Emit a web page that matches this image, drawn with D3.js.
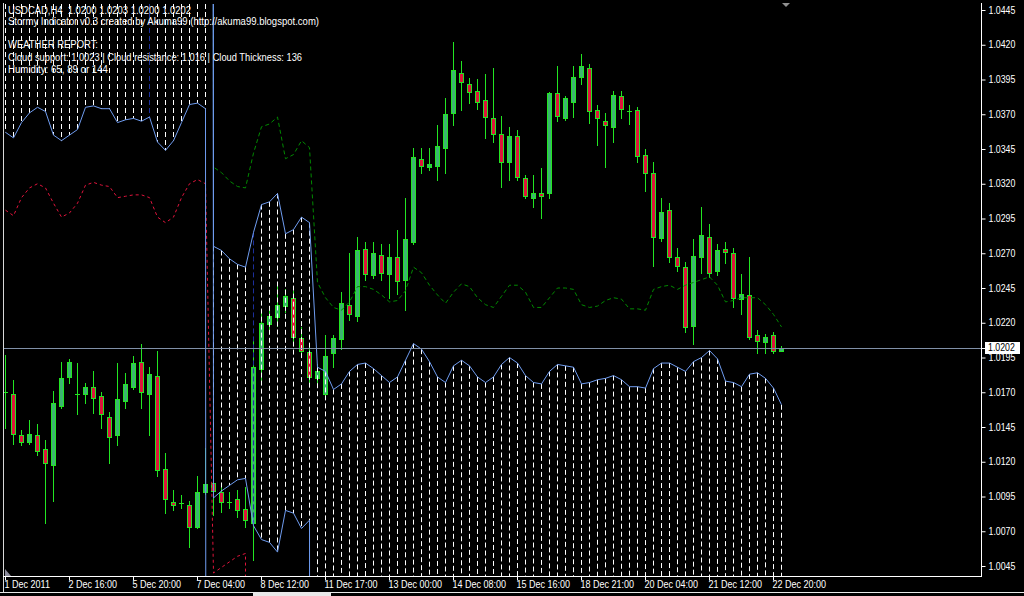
<!DOCTYPE html>
<html><head><meta charset="utf-8">
<script src="https://cdn.jsdelivr.net/npm/d3@7"></script>
<style>html,body{margin:0;padding:0;background:#000;overflow:hidden}text{font-family:"Liberation Sans",Arial,sans-serif;white-space:pre}</style>
</head><body><svg id="c" width="1024" height="596"></svg>
<script>
// ---------- DATA ----------
const opens  = [1.0170,1.0169,1.0139,1.0134,1.0139,1.0129,1.0118,1.0160,1.0181,1.0169,1.0169,1.0174,1.0167,1.0152,1.0139,1.0164,1.0174,1.0192,1.0169,1.0182,1.0115,1.0091,1.0090,1.0089,1.0073,1.0098,1.0105,1.0098,1.0091,1.0093,1.0086,1.0076,1.0187,1.0219,1.0224,1.0232,1.0238,1.0209,1.0199,1.0180,1.0169,1.0198,1.0208,1.0233,1.0225,1.0273,1.0254,1.0269,1.0255,1.0267,1.0251,1.0278,1.0338,1.0332,1.0333,1.0346,1.0371,1.0400,1.0392,1.0387,1.0380,1.0367,1.0356,1.0336,1.0354,1.0324,1.0310,1.0313,1.0313,1.0385,1.0367,1.0379,1.0397,1.0403,1.0373,1.0365,1.0361,1.0383,1.0372,1.0373,1.0341,1.0328,1.0281,1.0301,1.0267,1.0260,1.0218,1.0267,1.0282,1.0257,1.0273,1.0270,1.0237,1.0240,1.0211,1.0206,1.0211,1.0200];
const highs  = [1.0197,1.0179,1.0143,1.0150,1.0147,1.0136,1.0171,1.0192,1.0194,1.0191,1.0177,1.0185,1.0170,1.0156,1.0191,1.0184,1.0196,1.0205,1.0188,1.0200,1.0126,1.0100,1.0096,1.0092,1.0110,1.0130,1.0110,1.0102,1.0098,1.0100,1.0102,1.0209,1.0229,1.0231,1.0249,1.0244,1.0243,1.0217,1.0205,1.0190,1.0211,1.0211,1.0242,1.0270,1.0282,1.0278,1.0278,1.0277,1.0277,1.0287,1.0310,1.0346,1.0346,1.0346,1.0362,1.0382,1.0422,1.0408,1.0396,1.0395,1.0399,1.0403,1.0369,1.0361,1.0359,1.0326,1.0326,1.0331,1.0386,1.0405,1.0383,1.0405,1.0413,1.0406,1.0377,1.0371,1.0387,1.0387,1.0377,1.0375,1.0345,1.0336,1.0310,1.0306,1.0274,1.0264,1.0280,1.0303,1.0291,1.0277,1.0278,1.0274,1.0255,1.0267,1.0215,1.0212,1.0213,1.0203];
const lows   = [1.0144,1.0133,1.0132,1.0133,1.0125,1.0076,1.0092,1.0159,1.0177,1.0154,1.0162,1.0155,1.0144,1.0119,1.0132,1.0159,1.0172,1.0159,1.0139,1.0110,1.0083,1.0085,1.0087,1.0059,1.0072,1.0097,1.0082,1.0084,1.0087,1.0080,1.0073,1.0049,1.0179,1.0215,1.0218,1.0228,1.0204,1.0197,1.0177,1.0176,1.0168,1.0188,1.0201,1.0222,1.0221,1.0251,1.0252,1.0251,1.0238,1.0241,1.0229,1.0277,1.0328,1.0330,1.0323,1.0328,1.0362,1.0373,1.0378,1.0374,1.0353,1.0350,1.0318,1.0323,1.0323,1.0310,1.0303,1.0295,1.0310,1.0365,1.0366,1.0368,1.0392,1.0364,1.0348,1.0332,1.0350,1.0367,1.0363,1.0336,1.0315,1.0261,1.0279,1.0264,1.0257,1.0213,1.0205,1.0256,1.0253,1.0254,1.0263,1.0231,1.0226,1.0208,1.0198,1.0198,1.0198,1.0200];
const closes = [1.0170,1.0140,1.0134,1.0140,1.0128,1.0119,1.0162,1.0180,1.0192,1.0169,1.0174,1.0166,1.0154,1.0138,1.0165,1.0176,1.0191,1.0170,1.0183,1.0114,1.0093,1.0089,1.0090,1.0073,1.0098,1.0104,1.0099,1.0091,1.0091,1.0085,1.0078,1.0188,1.0220,1.0225,1.0233,1.0239,1.0210,1.0200,1.0181,1.0185,1.0196,1.0209,1.0234,1.0226,1.0272,1.0255,1.0270,1.0256,1.0267,1.0250,1.0280,1.0339,1.0333,1.0334,1.0347,1.0370,1.0402,1.0393,1.0386,1.0379,1.0368,1.0356,1.0336,1.0354,1.0325,1.0311,1.0313,1.0311,1.0385,1.0369,1.0382,1.0397,1.0405,1.0372,1.0367,1.0362,1.0384,1.0374,1.0372,1.0340,1.0328,1.0282,1.0300,1.0267,1.0261,1.0217,1.0268,1.0283,1.0256,1.0272,1.0271,1.0238,1.0241,1.0210,1.0207,1.0210,1.0200,1.0202];

// Stormy indicator lines (first bar index + values; 2.0 / 0.0 = value far off the chart)
const resistStart = 0;
const resistValues = [1.0357,1.0353,1.0364,1.0371,1.0375,1.0372,1.0355,1.0351,1.0355,1.0359,1.0375,1.0376,1.0374,1.0374,1.0364,1.0366,1.0367,1.0365,1.0368,1.0350,1.0344,1.0351,1.0364,1.0377,1.0378,1.0374,0.0];
const redStart = 0;
const redValues = [1.0301,1.0297,1.0310,1.0317,1.0320,1.0317,1.0306,1.0296,1.0299,1.0306,1.0319,1.0321,1.0319,1.0318,1.0310,1.0311,1.0312,1.0312,1.0310,1.0296,1.0292,1.0296,1.0310,1.0320,1.0323,1.0320,1.0040,1.0044,1.0048,1.0052,1.0054,0.0];
const upperStart = 25;
const upperValues = [2.0,1.0275,1.0272,1.0266,1.0262,1.0260,1.0285,1.0305,1.0307,1.0313,1.0284,1.0287,1.0296,1.0292,
  1.0188,1.0185,1.0172,1.0176,1.0185,1.0190,1.0191,1.0187,1.0182,1.0177,1.0181,1.0193,1.0205,1.0201,1.0192,1.0181,1.0177,1.0189,1.0193,1.0189,1.0181,1.0177,1.0181,1.0190,1.0195,1.0191,1.0182,1.0177,1.0176,1.0185,1.0190,1.0189,1.0188,1.0176,1.0177,1.0179,1.0180,1.0182,1.0179,1.0174,1.0174,1.0173,1.0187,1.0191,1.0191,1.0188,1.0185,1.0192,1.0195,1.0200,1.0194,1.0178,1.0177,1.0174,1.0183,1.0184,1.0180,1.0173,1.0161];
const lowerStart = 25;
const lowerValues = [2.0,1.0094,1.0099,1.0103,1.0107,1.0108,1.0074,1.0064,1.0062,1.0055,1.0085,1.0083,1.0072,1.0078,0.0];
const greenStart = 25;
const greenValues = [2.0,1.0332,1.0328,1.0322,1.0318,1.0317,1.0342,1.0361,1.0363,1.0368,1.0338,1.0341,1.0351,1.0346,
  1.0249,1.0238,1.0231,1.0229,1.0235,1.0246,1.0246,1.0244,1.0240,1.0235,1.0236,1.0243,1.0260,1.0256,1.0247,1.0240,1.0234,1.0242,1.0248,1.0246,1.0238,1.0233,1.0231,1.0239,1.0247,1.0247,1.0242,1.0231,1.0231,1.0238,1.0245,1.0245,1.0244,1.0233,1.0231,1.0232,1.0236,1.0238,1.0237,1.0230,1.0230,1.0229,1.0244,1.0246,1.0247,1.0244,1.0247,1.0249,1.0251,1.0253,1.0247,1.0235,1.0236,1.0238,1.0238,1.0238,1.0233,1.0226,1.0217];
const darkCloudBars = [18, 31];

const priceTicks = [1.0445,1.0420,1.0395,1.0370,1.0345,1.0320,1.0295,1.0270,1.0245,1.0220,1.0195,1.0170,1.0145,1.0120,1.0095,1.0070,1.0045];
const timeTickBars = [0,8,16,24,32,40,48,56,64,72,80,88,96];
const timeLabels = ["1 Dec 2011","2 Dec 16:00","5 Dec 20:00","7 Dec 04:00","8 Dec 12:00","11 Dec 17:00","13 Dec 00:00","14 Dec 08:00","15 Dec 16:00","18 Dec 21:00","20 Dec 04:00","21 Dec 12:00","22 Dec 20:00"];
const lastPrice = 1.0202;
const headerLines = ["USDCAD,H4  1.0200 1.0203 1.0200 1.0202","Stormy Indicator v0.3 created by Akuma99 (http://akuma99.blogspot.com)","","WEATHER REPORT:","Cloud support: 1.0023 | Cloud resistance: 1.016 | Cloud Thickness: 136","Humidity: 65, 89 or 144"];

// ---------- LAYOUT ----------
const P = {left:4, right:981, top:4, bottom:576};
const x = d3.scaleLinear().domain([0, 97]).range([5, 781]);
const y = d3.scaleLinear().domain([1.0045, 1.0445]).range([566, 10]);
const WICK = "#22e622", BULL = "#3cb371", BEAR = "#dc143c";

const svg = d3.select("#c");
svg.append("rect").attr("width",1024).attr("height",596).attr("fill","#000");
svg.append("defs").append("clipPath").attr("id","clip")
  .append("rect").attr("x",P.left).attr("y",P.top).attr("width",P.right-P.left).attr("height",P.bottom-P.top);
const g = svg.append("g").attr("clip-path","url(#clip)");

const px = i => Math.round(x(i));

// candles
const bars = opens.map((o,i)=>({i,o,h:highs[i],l:lows[i],c:closes[i]}));
g.append("g").selectAll("line").data(bars).join("line")
  .attr("x1",d=>px(d.i)+0.5).attr("x2",d=>px(d.i)+0.5)
  .attr("y1",d=>Math.round(y(d.h))).attr("y2",d=>Math.round(y(d.l))+1)
  .attr("stroke",WICK).attr("stroke-width",1);
g.append("g").selectAll("rect").data(bars.filter(d=>d.o!==d.c)).join("rect")
  .attr("x",d=>px(d.i)-1.5).attr("width",4)
  .attr("y",d=>Math.round(y(Math.max(d.o,d.c)))+0.5)
  .attr("height",d=>Math.max(1,Math.round(y(Math.min(d.o,d.c)))-Math.round(y(Math.max(d.o,d.c)))))
  .attr("fill",d=>d.c>d.o?BULL:BEAR).attr("stroke",WICK).attr("stroke-width",1);
g.append("g").selectAll("line").data(bars.filter(d=>d.o===d.c)).join("line")
  .attr("x1",d=>px(d.i)-2).attr("x2",d=>px(d.i)+3)
  .attr("y1",d=>Math.round(y(d.o))+0.5).attr("y2",d=>Math.round(y(d.o))+0.5)
  .attr("stroke",WICK);

// series helpers
const series = (start, vals) => vals.map((v,k)=>({i:start+k, v}));
const resist = series(resistStart, resistValues);
const red = series(redStart, redValues);
const upper = series(upperStart, upperValues);
const lower = series(lowerStart, lowerValues);
const green = series(greenStart, greenValues);
const valAt = (arr, i) => { const f = arr.find(d=>d.i===i); return f ? f.v : null; };

// cloud (dashed histogram)
const cloud = d3.range(opens.length).map(i=>{
  let y1, y2;
  if (i <= 25) { y1 = P.top; y2 = y(valAt(resist,i)); }
  else if (valAt(lower,i) !== null && valAt(lower,i) > 0.5) { y1 = y(valAt(upper,i)); y2 = y(valAt(lower,i)); }
  else { y1 = y(valAt(upper,i)); y2 = P.bottom; }
  return {i, y1, y2, dark: darkCloudBars.includes(i)};
});
g.append("g").selectAll("line").data(cloud).join("line")
  .attr("x1",d=>px(d.i)+0.5).attr("x2",d=>px(d.i)+0.5)
  .attr("y1",d=>d.y1).attr("y2",d=>d.y2)
  .attr("stroke",d=>d.dark?"#1c2f9c":"#ffffff").attr("stroke-width",1)
  .attr("stroke-dasharray","5,3");

const line = d3.line().x(d=>px(d.i)+0.5).y(d=>y(d.v));
g.append("path").datum(red).attr("d",line).attr("fill","none").attr("stroke","#e0143c").attr("stroke-dasharray","3,3");
g.append("path").datum(green).attr("d",line).attr("fill","none").attr("stroke","#008a00").attr("stroke-dasharray","4,3");
[resist, upper, lower].forEach(s=>{
  g.append("path").datum(s).attr("d",line).attr("fill","none").attr("stroke","#6f9cf0").attr("stroke-width",1);
});

// current price line
const yl = Math.round(y(lastPrice))+0.5;
svg.append("line").attr("x1",P.left).attr("x2",P.right).attr("y1",yl).attr("y2",yl).attr("stroke","#8090a8");

// frame
svg.append("line").attr("x1",3.5).attr("x2",3.5).attr("y1",3).attr("y2",593).attr("stroke","#d8d8d8");
svg.append("line").attr("x1",0).attr("x2",1024).attr("y1",592.5).attr("y2",592.5).attr("stroke","#e8e8e8");
svg.append("rect").attr("x",253).attr("y",593).attr("width",78).attr("height",3).attr("fill","#e8e8e8");

// axes
const squeeze = (sel,k) => sel.each(function(){ const w=this.getComputedTextLength(); if(w>0){ this.setAttribute("textLength",(w*k).toFixed(1)); this.setAttribute("lengthAdjust","spacingAndGlyphs"); } });

const yAxis = svg.append("g").attr("transform",`translate(${P.right+0.5},0)`)
  .call(d3.axisRight(y).tickValues(priceTicks).tickFormat(d3.format(".4f")).tickSize(4).tickSizeOuter(0));
yAxis.select(".domain").remove();
yAxis.selectAll("line").attr("stroke","#fff");
yAxis.selectAll("text").attr("fill","#fff").attr("x",7).style("font-size","10px").attr("font-family",null);
svg.append("line").attr("x1",P.right+0.5).attr("x2",P.right+0.5).attr("y1",3).attr("y2",P.bottom+1).attr("stroke","#fff");

const xAxis = svg.append("g").attr("transform",`translate(0,${P.bottom+0.5})`)
  .call(d3.axisBottom(x).tickValues(timeTickBars).tickFormat((d,k)=>timeLabels[k]).tickSize(4).tickSizeOuter(0));
xAxis.select(".domain").remove();
xAxis.selectAll(".tick").attr("transform",d=>`translate(${px(d)+0.5},0)`);
xAxis.selectAll("line").attr("stroke","#fff");
xAxis.selectAll("text").attr("fill","#fff").attr("text-anchor","start").attr("x",-1).attr("y",4).attr("dy","0.71em").style("font-size","10px").attr("font-family",null);
svg.append("line").attr("x1",3).attr("x2",P.right+1).attr("y1",P.bottom+0.5).attr("y2",P.bottom+0.5).attr("stroke","#fff");

squeeze(yAxis.selectAll("text"),0.88);
squeeze(xAxis.selectAll("text"),0.9);

// last price box
svg.append("line").attr("x1",P.right).attr("x2",P.right+5).attr("y1",yl).attr("y2",yl).attr("stroke","#fff");
svg.append("rect").attr("x",985).attr("y",342).attr("width",35).attr("height",12).attr("fill","#fff");
const lp = svg.append("text").attr("x",988).attr("y",y(lastPrice)).attr("dy","0.35em").attr("fill","#000").style("font-size","10px").text(d3.format(".4f")(lastPrice));
squeeze(lp,0.88);

// markers
svg.append("path").attr("d","M782,3 L790,3 L786,7 Z").attr("fill","#909090");
svg.append("path").attr("d","M5,569 L5,576 L11,576 Z").attr("fill","#8a8a9a");

// header text
const headerBase = [14,25,36,48,61,73];
const headerWidths = [183,311,0,90,294,100];
headerLines.forEach((t,k)=>{
  if(!t) return;
  const tx = svg.append("text").attr("x",8).attr("y",headerBase[k]).attr("fill","#fff").style("font-size","10px").text(t);
  tx.attr("textLength",headerWidths[k]).attr("lengthAdjust","spacingAndGlyphs");
});
</script>
</body></html>
